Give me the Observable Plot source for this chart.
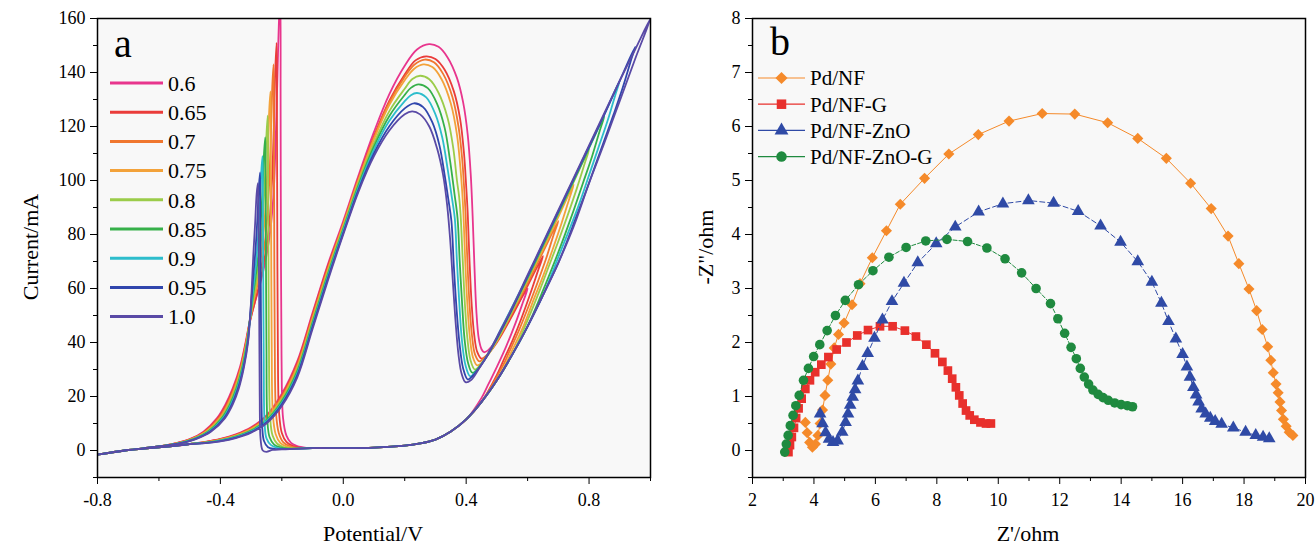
<!DOCTYPE html>
<html><head><meta charset="utf-8">
<script src="https://cdn.jsdelivr.net/npm/d3@7"></script>
<script src="https://cdn.jsdelivr.net/npm/@observablehq/plot@0.6"></script>
<style>
body{margin:0;background:#fff;}
#wrap{position:relative;width:1315px;height:548px;font-family:"Liberation Serif","Times New Roman",serif;}
.panel{position:absolute;top:0;}
#overlay{position:absolute;left:0;top:0;pointer-events:none;}
</style>
</head><body>
<div id="wrap"><div id="pa" class="panel" style="left:0"></div><div id="pb" class="panel" style="left:660px"></div></div>
<script>
// ---------- Panel a: cyclic voltammograms ----------
const cvLabels = ["0.6","0.65","0.7","0.75","0.8","0.85","0.9","0.95","1.0"];
const cvColors = ["#e8358d","#ea3c3a","#f0772f","#f3a23a","#9bcc4a","#36b04a","#2dbdcc","#3046ad","#5a4aa6"];
const cvYTicks = [0,20,40,60,80,100,120,140,160];
const cvYMinor = [-10,10,30,50,70,90,110,130,150];
const cvXTicks = [-0.8,-0.4,0.0,0.4,0.8];
const cvXMinor = [-0.6,-0.2,0.2,0.6,1.0];

// shared start of the forward scan
const cvStart = [[-0.8,-1.5],[-0.75,-0.6],[-0.7,0.2],[-0.65,0.7],[-0.6,1.2],[-0.55,1.7],[-0.5,2.4]];
// forward scan, -0.45 ... -0.05 V, one per curve
const cvRise06 = [[-0.45,3.2],[-0.4,4.3],[-0.35,6.0],[-0.3,8.6],[-0.25,13],[-0.2,21],[-0.15,33],[-0.1,51],[-0.05,69]];
const cvRise065 = [[-0.45,3.14],[-0.4,4.19],[-0.35,5.83],[-0.3,8.35],[-0.25,12.6],[-0.2,20.4],[-0.15,32.3],[-0.1,50.3],[-0.05,68.3]];
const cvRise07 = [[-0.45,3.08],[-0.4,4.08],[-0.35,5.65],[-0.3,8.1],[-0.25,12.3],[-0.2,19.9],[-0.15,31.5],[-0.1,49.5],[-0.05,67.5]];
const cvRise075 = [[-0.45,3.01],[-0.4,3.96],[-0.35,5.48],[-0.3,7.85],[-0.25,11.9],[-0.2,19.3],[-0.15,30.8],[-0.1,48.8],[-0.05,66.8]];
const cvRise08 = [[-0.45,2.95],[-0.4,3.85],[-0.35,5.3],[-0.3,7.6],[-0.25,11.5],[-0.2,18.8],[-0.15,30],[-0.1,48],[-0.05,66]];
const cvRise085 = [[-0.45,2.89],[-0.4,3.74],[-0.35,5.13],[-0.3,7.35],[-0.25,11.1],[-0.2,18.2],[-0.15,29.3],[-0.1,47.3],[-0.05,65.3]];
const cvRise09 = [[-0.45,2.83],[-0.4,3.63],[-0.35,4.95],[-0.3,7.1],[-0.25,10.8],[-0.2,17.6],[-0.15,28.5],[-0.1,46.5],[-0.05,64.5]];
const cvRise095 = [[-0.45,2.76],[-0.4,3.51],[-0.35,4.78],[-0.3,6.85],[-0.25,10.4],[-0.2,17.1],[-0.15,27.8],[-0.1,45.8],[-0.05,63.8]];
const cvRise10 = [[-0.45,2.7],[-0.4,3.4],[-0.35,4.6],[-0.3,6.6],[-0.25,10],[-0.2,16.5],[-0.15,27],[-0.1,45],[-0.05,63]];

// forward oxidation peak, minimum and rise to the vertex potential
const cvPeak06 = [[0,85],[0.05,102],[0.1,118],[0.15,132],[0.2,142.5],[0.24,148.5],[0.279,150.5],[0.31,149.5],[0.34,145.5],[0.37,138],[0.39,129],[0.405,117],[0.415,102],[0.421,87],[0.427,68],[0.433,52],[0.441,41.5],[0.45,37.5],[0.458,36.4],[0.47,37],[0.5,41],[0.53,46.5],[0.56,52.5],[0.6,60]];
const cvPeak065 = [[0,84],[0.05,101],[0.1,116.4],[0.15,129.6],[0.2,139.3],[0.235,144.5],[0.27,146],[0.3,145],[0.33,141],[0.36,133],[0.38,123],[0.393,110],[0.4,98],[0.405,88],[0.411,70],[0.418,54],[0.426,43],[0.436,36.5],[0.45,34],[0.465,35],[0.5,40],[0.55,50],[0.6,61],[0.65,72]];
const cvPeak07 = [[0,83.9],[0.05,100.6],[0.1,115.9],[0.15,128.9],[0.2,138.4],[0.23,142.8],[0.265,144.8],[0.295,143.8],[0.325,139.5],[0.355,131],[0.375,120],[0.387,108],[0.393,98],[0.398,88],[0.404,70],[0.411,54],[0.419,42.5],[0.429,35.5],[0.443,33],[0.46,34.5],[0.5,40.5],[0.55,51],[0.6,62],[0.65,73.5],[0.7,85]];
const cvPeak075 = [[0,83.5],[0.05,100.2],[0.1,115.3],[0.15,128],[0.2,137.1],[0.23,141.3],[0.26,143],[0.29,142],[0.32,137.5],[0.35,128.5],[0.37,117],[0.381,105],[0.387,96],[0.391,88],[0.397,70],[0.404,54],[0.412,42],[0.422,34.5],[0.436,31.5],[0.455,33],[0.5,40.5],[0.55,51.5],[0.6,63],[0.65,74.5],[0.7,86.5],[0.75,98.5]];
const cvPeak08 = [[0,82.6],[0.05,99.2],[0.1,113.8],[0.15,125.7],[0.2,134],[0.225,137.6],[0.25,138.8],[0.28,137.5],[0.31,132.5],[0.34,123],[0.358,112],[0.37,100],[0.377,94],[0.382,87],[0.389,70],[0.396,54],[0.404,41.5],[0.414,33.5],[0.428,30],[0.445,31.5],[0.48,37],[0.52,45],[0.56,54],[0.6,63.5],[0.65,75.5],[0.7,87.5],[0.75,99.5],[0.8,111.5]];
const cvPeak085 = [[0,82],[0.05,98.4],[0.1,112.6],[0.15,123.9],[0.2,131.7],[0.22,134.3],[0.245,135.6],[0.275,134.2],[0.305,128.5],[0.33,119.5],[0.348,107],[0.362,95],[0.372,86],[0.379,70],[0.387,54],[0.395,41],[0.406,32.5],[0.42,28.8],[0.44,30.5],[0.48,37.5],[0.52,46],[0.56,55],[0.6,64],[0.65,76],[0.7,88],[0.75,100],[0.8,112],[0.85,124]];
const cvPeak09 = [[0,81.4],[0.05,97.6],[0.1,111.4],[0.15,122.1],[0.2,129.4],[0.22,131.6],[0.24,132.4],[0.27,130.8],[0.3,124.5],[0.322,116],[0.34,104],[0.353,94],[0.363,86],[0.37,70],[0.378,54],[0.386,41],[0.398,31.5],[0.413,27.5],[0.43,29],[0.47,35.5],[0.52,46.5],[0.56,55.5],[0.6,64.5],[0.65,76.5],[0.7,88.5],[0.75,100.5],[0.8,112.5],[0.85,124.5],[0.9,137]];
const cvPeak095 = [[0,80.6],[0.05,96.7],[0.1,110.1],[0.15,120.1],[0.2,126.7],[0.23,128.6],[0.26,127.2],[0.29,121.5],[0.313,113],[0.33,102],[0.342,93],[0.352,85],[0.36,68],[0.369,52],[0.378,40],[0.39,30.5],[0.405,26.3],[0.42,27.5],[0.46,33.5],[0.5,41.5],[0.55,52.5],[0.6,64.5],[0.65,76.5],[0.7,88.5],[0.75,100.5],[0.8,112.5],[0.85,124.5],[0.9,137],[0.95,149.5]];
const cvPeak10 = [[0,80],[0.05,96],[0.1,109],[0.15,118.5],[0.2,124.5],[0.224,125.6],[0.25,124.5],[0.28,120],[0.305,112],[0.325,102],[0.338,91],[0.348,78],[0.357,62],[0.366,47],[0.375,35.5],[0.385,28.5],[0.398,25.3],[0.415,26],[0.44,30],[0.47,35.5],[0.5,42],[0.55,53],[0.6,65],[0.65,77],[0.7,89],[0.75,101],[0.8,113],[0.85,125],[0.9,137],[0.95,148.5],[1.0,160]];

// reverse scan just after each vertex
const cvTurn06 = [[0.585,55],[0.56,47],[0.53,38.5],[0.5,31],[0.47,24],[0.45,19.5]];
const cvTurn065 = [[0.635,67],[0.61,58.5],[0.58,49],[0.55,40.5],[0.52,33],[0.5,28]];
const cvTurn07 = [[0.685,80],[0.66,71],[0.63,61.5],[0.6,52.5],[0.57,44],[0.54,36.5],[0.52,31.5]];
const cvTurn075 = [[0.735,93],[0.71,84],[0.68,74],[0.65,64.5],[0.62,56],[0.59,47],[0.56,39.5]];
const cvTurn08 = [[0.785,106],[0.76,97],[0.73,87],[0.7,77.5],[0.67,68.5],[0.64,59.5],[0.61,51]];
const cvTurn085 = [[0.835,118.5],[0.81,109],[0.78,99],[0.75,89],[0.72,79.5],[0.69,70.5],[0.66,62]];
const cvTurn09 = [[0.885,131.5],[0.86,122],[0.83,112],[0.8,102],[0.77,92],[0.74,83],[0.71,74.5]];
const cvTurn095 = [[0.935,144],[0.91,134.5],[0.88,124.5],[0.85,115],[0.82,105.5],[0.79,96],[0.76,87]];
const cvTurn10 = [];

// shared lower reverse branch
const cvLowerReturn = [[1.0,160],[0.95,145],[0.9,129.5],[0.85,114],[0.8,99],[0.75,83],[0.7,69.5],[0.65,57.5],[0.6,46],[0.55,35.5],[0.5,26],[0.45,18],[0.4,11.5],[0.35,7],[0.3,4],[0.25,2.6],[0.2,1.8],[0.1,1.1],[0.0,0.9],[-0.1,0.9]];

// reverse (reactivation) peaks
const cvTooth06 = [[-0.12,1.0],[-0.15,1.6],[-0.17,2.8],[-0.185,5.5],[-0.196,12],[-0.201,35],[-0.203,80],[-0.204,130],[-0.205,168],[-0.209,160],[-0.214,140],[-0.22,115],[-0.227,95],[-0.238,81],[-0.252,71],[-0.27,62],[-0.29,54],[-0.306,47]];
const cvTooth065 = [[-0.14,1.0],[-0.165,1.7],[-0.185,3.2],[-0.2,6.5],[-0.209,14],[-0.213,40],[-0.215,90],[-0.216,130],[-0.217,151],[-0.221,142],[-0.226,120],[-0.232,100],[-0.24,85],[-0.252,74],[-0.27,63],[-0.29,54],[-0.305,47]];
const cvTooth07 = [[-0.15,1.0],[-0.175,1.6],[-0.195,3],[-0.21,6.5],[-0.219,14],[-0.223,40],[-0.225,90],[-0.226,125],[-0.227,143],[-0.231,135],[-0.236,115],[-0.242,97],[-0.25,83],[-0.262,71],[-0.278,62],[-0.294,54],[-0.305,47.5]];
const cvTooth075 = [[-0.16,0.9],[-0.185,1.5],[-0.205,2.8],[-0.22,6],[-0.229,13],[-0.233,40],[-0.235,90],[-0.236,118],[-0.237,133],[-0.241,126],[-0.246,108],[-0.252,92],[-0.26,80],[-0.272,68],[-0.286,59],[-0.3,51],[-0.307,46]];
const cvTooth08 = [[-0.17,0.8],[-0.195,1.3],[-0.215,2.5],[-0.23,5.5],[-0.238,12],[-0.242,40],[-0.244,85],[-0.245,110],[-0.246,124],[-0.25,117],[-0.255,101],[-0.261,88],[-0.269,76],[-0.28,65],[-0.293,56],[-0.304,48]];
const cvTooth085 = [[-0.18,0.7],[-0.205,1.2],[-0.225,2.2],[-0.24,5],[-0.247,11],[-0.25,38],[-0.252,80],[-0.253,104],[-0.254,116],[-0.258,110],[-0.263,96],[-0.269,84],[-0.277,72],[-0.288,62],[-0.298,54],[-0.305,47.5]];
const cvTooth09 = [[-0.19,0.6],[-0.215,1.0],[-0.235,2],[-0.25,4.5],[-0.256,10],[-0.259,36],[-0.261,75],[-0.262,97],[-0.263,109],[-0.267,103],[-0.272,90],[-0.278,78],[-0.286,67],[-0.296,57],[-0.304,48]];
const cvTooth095 = [[-0.2,0.5],[-0.225,0.6],[-0.245,1.2],[-0.258,3.5],[-0.264,9],[-0.267,34],[-0.269,72],[-0.27,92],[-0.271,103],[-0.275,97],[-0.28,85],[-0.286,74],[-0.294,63],[-0.301,53],[-0.306,46]];
const cvTooth10 = [[-0.2,0.4],[-0.23,0.2],[-0.25,-0.5],[-0.262,0],[-0.269,4],[-0.272,20],[-0.274,60],[-0.276,88],[-0.278,99],[-0.282,95],[-0.287,84],[-0.293,72],[-0.298,60],[-0.303,50]];

// reverse scan left of the peaks, one per curve
const cvFall06 = [[-0.318,40],[-0.336,31],[-0.36,23],[-0.384,17],[-0.411,12],[-0.455,7],[-0.5,4.2],[-0.548,2.6]];
const cvFall065 = [[-0.317,40],[-0.334,31],[-0.3575,23],[-0.381,17],[-0.408,12],[-0.452,7],[-0.4975,4.2],[-0.546,2.6]];
const cvFall07 = [[-0.316,40],[-0.333,31],[-0.355,23],[-0.378,17],[-0.4045,12],[-0.449,7],[-0.495,4.2],[-0.5435,2.6]];
const cvFall075 = [[-0.315,40],[-0.331,31],[-0.3525,23],[-0.375,17],[-0.401,12],[-0.446,7],[-0.4925,4.2],[-0.541,2.6]];
const cvFall08 = [[-0.314,40],[-0.3295,31],[-0.35,23],[-0.372,17],[-0.398,12],[-0.4425,7],[-0.49,4.2],[-0.539,2.6]];
const cvFall085 = [[-0.313,40],[-0.328,31],[-0.3475,23],[-0.369,17],[-0.395,12],[-0.439,7],[-0.4875,4.2],[-0.537,2.6]];
const cvFall09 = [[-0.312,40],[-0.326,31],[-0.345,23],[-0.366,17],[-0.3915,12],[-0.436,7],[-0.485,4.2],[-0.5345,2.6]];
const cvFall095 = [[-0.311,40],[-0.3245,31],[-0.3425,23],[-0.363,17],[-0.388,12],[-0.433,7],[-0.4825,4.2],[-0.532,2.6]];
const cvFall10 = [[-0.31,40],[-0.323,31],[-0.34,23],[-0.36,17],[-0.385,12],[-0.43,7],[-0.48,4.2],[-0.53,2.6]];
// shared end of the reverse scan
const cvEnd = [[-0.6,1.5],[-0.65,0.8],[-0.7,0.1],[-0.75,-0.7],[-0.8,-1.5]];

const cvRises = [cvRise06,cvRise065,cvRise07,cvRise075,cvRise08,cvRise085,cvRise09,cvRise095,cvRise10];
const cvPeaks = [cvPeak06,cvPeak065,cvPeak07,cvPeak075,cvPeak08,cvPeak085,cvPeak09,cvPeak095,cvPeak10];
const cvTurns = [cvTurn06,cvTurn065,cvTurn07,cvTurn075,cvTurn08,cvTurn085,cvTurn09,cvTurn095,cvTurn10];
const cvTeeth = [cvTooth06,cvTooth065,cvTooth07,cvTooth075,cvTooth08,cvTooth085,cvTooth09,cvTooth095,cvTooth10];
const cvFalls = [cvFall06,cvFall065,cvFall07,cvFall075,cvFall08,cvFall085,cvFall09,cvFall095,cvFall10];

// ---------- Panel b: Nyquist plots ----------
const eisLabels = ["Pd/NF","Pd/NF-G","Pd/NF-ZnO","Pd/NF-ZnO-G"];
const eisColors = ["#f58a2a","#e8302c","#2f4aa6","#1f8a3f"];
const eisSymbols = ["diamond2","square","triangle","circle"];
const eisYTicks = [0,1,2,3,4,5,6,7,8];
const eisYMinor = [-0.5,0.5,1.5,2.5,3.5,4.5,5.5,6.5,7.5];
const eisXTicks = [2,4,6,8,10,12,14,16,18,20];
const eisXMinor = [3,5,7,9,11,13,15,17,19];

const eisPdNF = [[3.72,0.52],[3.78,0.33],[3.86,0.15],[3.95,0.06],[4.05,0.12],[4.13,0.28],[4.2,0.5],[4.28,0.75],[4.36,1.02],[4.45,1.3],[4.55,1.6],[4.66,1.9],[4.8,2.15],[4.98,2.36],[5.24,2.7],[5.5,3.09],[5.9,3.57],[6.36,4.07],[6.81,4.56],[7.6,5.04],[8.39,5.49],[9.35,5.85],[10.35,6.1],[11.43,6.24],[12.49,6.23],[13.56,6.07],[14.54,5.78],[15.47,5.41],[16.26,4.95],[16.93,4.48],[17.48,3.97],[17.83,3.46],[18.16,2.99],[18.41,2.59],[18.59,2.24],[18.77,1.92],[18.87,1.67],[18.95,1.44],[19.04,1.23],[19.11,1.07],[19.17,0.9],[19.22,0.74],[19.28,0.58],[19.37,0.45],[19.47,0.34],[19.59,0.28]];
const eisPdNFG = [[3.17,-0.03],[3.22,0.1],[3.28,0.25],[3.35,0.42],[3.42,0.6],[3.5,0.78],[3.6,0.96],[3.72,1.14],[3.87,1.3],[4.04,1.45],[4.24,1.59],[4.47,1.73],[4.74,1.87],[5.06,2.0],[5.41,2.13],[5.76,2.23],[6.15,2.3],[6.56,2.3],[6.96,2.22],[7.32,2.11],[7.66,1.96],[7.94,1.8],[8.18,1.64],[8.36,1.48],[8.5,1.33],[8.62,1.17],[8.73,1.02],[8.84,0.87],[8.95,0.74],[9.07,0.65],[9.22,0.57],[9.42,0.52],[9.6,0.5],[9.76,0.5]];
const eisPdNFZnO = [[4.2,0.68],[4.28,0.5],[4.38,0.33],[4.49,0.21],[4.62,0.15],[4.77,0.18],[4.92,0.34],[5.03,0.52],[5.11,0.68],[5.18,0.84],[5.26,0.99],[5.34,1.13],[5.43,1.29],[5.58,1.56],[5.75,1.8],[5.97,2.08],[6.23,2.42],[6.54,2.76],[6.93,3.1],[7.38,3.48],[7.98,3.83],[8.6,4.14],[9.36,4.42],[10.15,4.57],[10.98,4.63],[11.8,4.58],[12.6,4.43],[13.33,4.16],[13.98,3.86],[14.54,3.5],[15.0,3.12],[15.31,2.73],[15.54,2.39],[15.78,2.07],[16.0,1.78],[16.14,1.55],[16.24,1.36],[16.35,1.17],[16.44,1.03],[16.52,0.9],[16.62,0.77],[16.75,0.68],[16.9,0.6],[17.06,0.54],[17.27,0.49],[17.65,0.42],[18.05,0.34],[18.38,0.28],[18.62,0.25],[18.82,0.22]];
const eisPdNFZnOG = [[3.05,-0.03],[3.1,0.12],[3.16,0.28],[3.23,0.46],[3.32,0.65],[3.41,0.83],[3.52,1.02],[3.66,1.3],[3.82,1.52],[3.99,1.74],[4.19,1.96],[4.43,2.22],[4.7,2.5],[5.02,2.78],[5.45,3.07],[5.92,3.33],[6.44,3.58],[7.0,3.76],[7.64,3.88],[8.33,3.91],[9.0,3.87],[9.63,3.75],[10.22,3.55],[10.76,3.29],[11.23,3.0],[11.7,2.72],[11.94,2.44],[12.16,2.17],[12.37,1.91],[12.54,1.7],[12.67,1.52],[12.8,1.36],[12.94,1.23],[13.08,1.12],[13.25,1.04],[13.41,0.98],[13.58,0.93],[13.79,0.88],[14.0,0.85],[14.2,0.83],[14.37,0.81]];
const eisSeries = [eisPdNF,eisPdNFG,eisPdNFZnO,eisPdNFZnOG];
const eisR = [5.0,4.9,4.7,4.8];
const eisDash = [null,null,"5,3","4,2"];

// ---------- build ----------
const FONT = '"Liberation Serif","Times New Roman",serif';
const cvRows = [];
cvLabels.forEach((lab, k) => {
  const peak = cvPeaks[k], turn = cvTurns[k];
  const lastX = (turn.length ? turn[turn.length - 1] : peak[peak.length - 1])[0];
  const pts = [...cvStart, ...cvRises[k], ...peak, ...turn,
    ...cvLowerReturn.filter(p => p[0] < lastX - 0.04),
    ...cvTeeth[k], ...cvFalls[k], ...cvEnd];
  pts.forEach(([x, y]) => cvRows.push({label: lab, x, y}));
});

const baseStyle = {fontFamily: FONT, fontSize: "18px", color: "#000", background: "transparent", overflow: "visible"};

const plotA = Plot.plot({
  width: 660, height: 548, marginLeft: 97, marginRight: 10, marginTop: 18, marginBottom: 71,
  x: {domain: [-0.8, 1.0], label: null},
  y: {domain: [-10, 160], label: null},
  color: {domain: cvLabels, range: cvColors},
  style: baseStyle,
  marks: [
    Plot.frame({fill: "#f8f8f8", stroke: "none"}),
    Plot.line(cvRows, {x: "x", y: "y", z: "label", stroke: "label", strokeWidth: 1.8, curve: "catmull-rom", clip: true}),
    Plot.axisY(cvYTicks, {tickSize: 7, tickPadding: 5, tickFormat: d => String(d), label: null}),
    Plot.axisY(cvYMinor, {tickSize: 4, tickFormat: () => "", label: null}),
    Plot.axisX(cvXTicks, {tickSize: 7, tickPadding: 9, tickFormat: d => d.toFixed(1), label: null}),
    Plot.axisX(cvXMinor, {tickSize: 4, tickFormat: () => "", label: null}),
    Plot.frame({stroke: "#000", strokeWidth: 1.5})
  ]
});
document.getElementById("pa").appendChild(plotA);

const eisRows = [];
eisLabels.forEach((lab, k) => eisSeries[k].forEach(([x, y]) => eisRows.push({label: lab, x, y})));
const eisMarks = [];
eisLabels.forEach((lab, k) => {
  const rows = eisRows.filter(d => d.label === lab);
  eisMarks.push(Plot.line(rows, {x: "x", y: "y", stroke: eisColors[k], strokeWidth: 1, strokeDasharray: eisDash[k] || undefined}));
  eisMarks.push(Plot.dot(rows, {x: "x", y: "y", fill: eisColors[k], stroke: "none", symbol: eisSymbols[k], r: eisR[k]}));
});

const plotB = Plot.plot({
  width: 655, height: 548, marginLeft: 92, marginRight: 10, marginTop: 18, marginBottom: 71,
  x: {domain: [2, 20], label: null},
  y: {domain: [-0.5, 8], label: null},
  style: baseStyle,
  marks: [
    Plot.frame({fill: "#f8f8f8", stroke: "none"}),
    ...eisMarks,
    Plot.axisY(eisYTicks, {tickSize: 7, tickPadding: 5, tickFormat: d => String(d), label: null}),
    Plot.axisY(eisYMinor, {tickSize: 4, tickFormat: () => "", label: null}),
    Plot.axisX(eisXTicks, {tickSize: 7, tickPadding: 9, tickFormat: d => String(d), label: null}),
    Plot.axisX(eisXMinor, {tickSize: 4, tickFormat: () => "", label: null}),
    Plot.frame({stroke: "#000", strokeWidth: 1.5})
  ]
});
document.getElementById("pb").appendChild(plotB);

// ---------- overlay: titles, panel letters, legends ----------
const ov = d3.select("#wrap").append("svg").attr("id", "overlay")
  .attr("width", 1315).attr("height", 548).style("font-family", FONT);

ov.append("text").attr("x", 114).attr("y", 57).attr("font-size", 40).text("a");
ov.append("text").attr("x", 770).attr("y", 55).attr("font-size", 40).text("b");

cvLabels.forEach((lab, i) => {
  const y = 83 + i * 29.2;
  ov.append("line").attr("x1", 110).attr("x2", 163).attr("y1", y).attr("y2", y)
    .attr("stroke", cvColors[i]).attr("stroke-width", 3);
  ov.append("text").attr("x", 168).attr("y", y).attr("dy", "0.35em").attr("font-size", 22).text(lab);
});

const symMap = {diamond2: d3.symbolDiamond2, square: d3.symbolSquare, triangle: d3.symbolTriangle, circle: d3.symbolCircle};
eisLabels.forEach((lab, i) => {
  const y = 78 + i * 26.2;
  const g = ov.append("g");
  g.append("line").attr("x1", 758).attr("x2", 805).attr("y1", y).attr("y2", y)
    .attr("stroke", eisColors[i]).attr("stroke-width", 1.2);
  g.append("path").attr("transform", `translate(781.5,${y})`)
    .attr("d", d3.symbol().type(symMap[eisSymbols[i]]).size(Math.PI * eisR[i] * eisR[i] * 1.2)())
    .attr("fill", eisColors[i]);
  g.append("text").attr("x", 810).attr("y", y).attr("dy", "0.35em").attr("font-size", 21).text(lab);
});

ov.append("text").attr("transform", "translate(30,247) rotate(-90)").attr("text-anchor", "middle")
  .attr("dy", "0.35em").attr("font-size", 22).text("Current/mA");
ov.append("text").attr("x", 373).attr("y", 541).attr("text-anchor", "middle").attr("font-size", 22).text("Potential/V");
ov.append("text").attr("transform", "translate(705,247) rotate(-90)").attr("text-anchor", "middle")
  .attr("dy", "0.35em").attr("font-size", 22).text('-Z"/ohm');
ov.append("text").attr("x", 1028).attr("y", 541).attr("text-anchor", "middle").attr("font-size", 22).text("Z'/ohm");
</script>
</body></html>
